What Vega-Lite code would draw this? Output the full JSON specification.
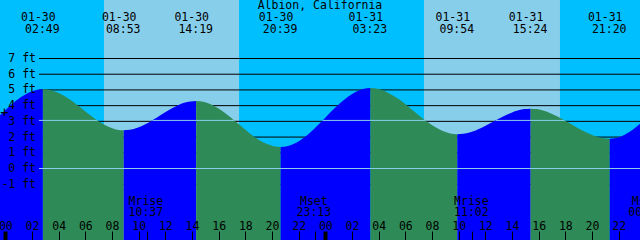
{
  "$schema": "https://vega.github.io/schema/vega-lite/v6.json",
  "width": 640,
  "height": 240,
  "autosize": {"type": "none"},
  "padding": 0,
  "background": "#00BFFF",
  "config": {
    "view": {"stroke": null},
    "axis": {"labelFont": "DejaVu Sans Mono", "labelFontSize": 11.5, "labelColor": "#000000", "labelOverlap": false, "labelFlush": false, "labelBound": false}
  },
  "datasets": {
    "sun": [{"start": 7.40, "end": 17.53}, {"start": 31.40, "end": 41.60}],
    "levels": [{"ft": -1}, {"ft": 0}, {"ft": 1}, {"ft": 2}, {"ft": 3}, {"ft": 4}, {"ft": 5}, {"ft": 6}, {"ft": 7}],
    "tide": [
      {"seg": 0, "phase": "rise", "h": -0.4, "ft": 3.38}, {"seg": 0, "phase": "rise", "h": 0, "ft": 3.71}, {"seg": 0, "phase": "rise", "h": 0.5, "ft": 4.10}, {"seg": 0, "phase": "rise", "h": 1, "ft": 4.44}, {"seg": 0, "phase": "rise", "h": 1.5, "ft": 4.71}, {"seg": 0, "phase": "rise", "h": 2, "ft": 4.91}, {"seg": 0, "phase": "rise", "h": 2.4, "ft": 5.01}, {"seg": 0, "phase": "rise", "h": 2.817, "ft": 5.04},
      {"seg": 1, "phase": "fall", "h": 2.817, "ft": 5.04}, {"seg": 1, "phase": "fall", "h": 3.323, "ft": 5.00}, {"seg": 1, "phase": "fall", "h": 3.828, "ft": 4.87}, {"seg": 1, "phase": "fall", "h": 4.839, "ft": 4.39}, {"seg": 1, "phase": "fall", "h": 5.85, "ft": 3.74}, {"seg": 1, "phase": "fall", "h": 6.861, "ft": 3.08}, {"seg": 1, "phase": "fall", "h": 7.872, "ft": 2.61}, {"seg": 1, "phase": "fall", "h": 8.378, "ft": 2.47}, {"seg": 1, "phase": "fall", "h": 8.883, "ft": 2.43},
      {"seg": 2, "phase": "rise", "h": 8.883, "ft": 2.43}, {"seg": 2, "phase": "rise", "h": 9.336, "ft": 2.46}, {"seg": 2, "phase": "rise", "h": 9.789, "ft": 2.56}, {"seg": 2, "phase": "rise", "h": 10.694, "ft": 2.90}, {"seg": 2, "phase": "rise", "h": 11.6, "ft": 3.37}, {"seg": 2, "phase": "rise", "h": 12.506, "ft": 3.83}, {"seg": 2, "phase": "rise", "h": 13.411, "ft": 4.18}, {"seg": 2, "phase": "rise", "h": 13.864, "ft": 4.27}, {"seg": 2, "phase": "rise", "h": 14.317, "ft": 4.30},
      {"seg": 3, "phase": "fall", "h": 14.317, "ft": 4.30}, {"seg": 3, "phase": "fall", "h": 14.845, "ft": 4.25}, {"seg": 3, "phase": "fall", "h": 15.372, "ft": 4.10}, {"seg": 3, "phase": "fall", "h": 16.428, "ft": 3.57}, {"seg": 3, "phase": "fall", "h": 17.483, "ft": 2.84}, {"seg": 3, "phase": "fall", "h": 18.539, "ft": 2.10}, {"seg": 3, "phase": "fall", "h": 19.594, "ft": 1.57}, {"seg": 3, "phase": "fall", "h": 20.122, "ft": 1.42}, {"seg": 3, "phase": "fall", "h": 20.65, "ft": 1.37},
      {"seg": 4, "phase": "rise", "h": 20.65, "ft": 1.37}, {"seg": 4, "phase": "rise", "h": 21.211, "ft": 1.43}, {"seg": 4, "phase": "rise", "h": 21.772, "ft": 1.62}, {"seg": 4, "phase": "rise", "h": 22.894, "ft": 2.31}, {"seg": 4, "phase": "rise", "h": 24.017, "ft": 3.25}, {"seg": 4, "phase": "rise", "h": 25.139, "ft": 4.18}, {"seg": 4, "phase": "rise", "h": 26.261, "ft": 4.87}, {"seg": 4, "phase": "rise", "h": 26.822, "ft": 5.06}, {"seg": 4, "phase": "rise", "h": 27.383, "ft": 5.12},
      {"seg": 5, "phase": "fall", "h": 27.383, "ft": 5.12}, {"seg": 5, "phase": "fall", "h": 27.926, "ft": 5.07}, {"seg": 5, "phase": "fall", "h": 28.469, "ft": 4.92}, {"seg": 5, "phase": "fall", "h": 29.555, "ft": 4.39}, {"seg": 5, "phase": "fall", "h": 30.642, "ft": 3.65}, {"seg": 5, "phase": "fall", "h": 31.728, "ft": 2.92}, {"seg": 5, "phase": "fall", "h": 32.814, "ft": 2.38}, {"seg": 5, "phase": "fall", "h": 33.357, "ft": 2.23}, {"seg": 5, "phase": "fall", "h": 33.9, "ft": 2.18},
      {"seg": 6, "phase": "rise", "h": 33.9, "ft": 2.18}, {"seg": 6, "phase": "rise", "h": 34.358, "ft": 2.21}, {"seg": 6, "phase": "rise", "h": 34.817, "ft": 2.29}, {"seg": 6, "phase": "rise", "h": 35.733, "ft": 2.59}, {"seg": 6, "phase": "rise", "h": 36.65, "ft": 3.00}, {"seg": 6, "phase": "rise", "h": 37.567, "ft": 3.40}, {"seg": 6, "phase": "rise", "h": 38.483, "ft": 3.70}, {"seg": 6, "phase": "rise", "h": 38.942, "ft": 3.78}, {"seg": 6, "phase": "rise", "h": 39.4, "ft": 3.81},
      {"seg": 7, "phase": "fall", "h": 39.4, "ft": 3.81}, {"seg": 7, "phase": "fall", "h": 39.894, "ft": 3.78}, {"seg": 7, "phase": "fall", "h": 40.389, "ft": 3.68}, {"seg": 7, "phase": "fall", "h": 41.378, "ft": 3.33}, {"seg": 7, "phase": "fall", "h": 42.367, "ft": 2.86}, {"seg": 7, "phase": "fall", "h": 43.356, "ft": 2.38}, {"seg": 7, "phase": "fall", "h": 44.344, "ft": 2.03}, {"seg": 7, "phase": "fall", "h": 44.839, "ft": 1.93}, {"seg": 7, "phase": "fall", "h": 45.333, "ft": 1.90},
      {"seg": 8, "phase": "rise", "h": 45.333, "ft": 1.90}, {"seg": 8, "phase": "rise", "h": 45.8, "ft": 1.94}, {"seg": 8, "phase": "rise", "h": 46.3, "ft": 2.09}, {"seg": 8, "phase": "rise", "h": 46.8, "ft": 2.32}, {"seg": 8, "phase": "rise", "h": 47.2, "ft": 2.56}, {"seg": 8, "phase": "rise", "h": 47.61, "ft": 2.85}
    ],
    "datumlines": [
      {"from": 2.53, "to": 48, "ft": 0},
      {"from": 2.53, "to": 6.90, "ft": 3.06},
      {"from": 11.03, "to": 17.17, "ft": 3.06},
      {"from": 23.80, "to": 31.50, "ft": 3.06},
      {"from": 36.79, "to": 41.96, "ft": 3.06}
    ],
    "extremes": [
      {"h": 2.817, "date": "01-30", "time": "02:49"},
      {"h": 8.883, "date": "01-30", "time": "08:53"},
      {"h": 14.317, "date": "01-30", "time": "14:19"},
      {"h": 20.65, "date": "01-30", "time": "20:39"},
      {"h": 27.383, "date": "01-31", "time": "03:23"},
      {"h": 33.9, "date": "01-31", "time": "09:54"},
      {"h": 39.4, "date": "01-31", "time": "15:24"},
      {"h": 45.333, "date": "01-31", "time": "21:20"}
    ],
    "moon": [
      {"h": 10.617, "event": "Mrise", "time": "10:37"},
      {"h": 23.217, "event": "Mset", "time": "23:13"},
      {"h": 35.033, "event": "Mrise", "time": "11:02"},
      {"h": 48.1, "event": "Mset", "time": "00:06"}
    ],
    "marker": [{"h": -0.06, "ft": 3.55, "sym": "+"}],
    "place": [{"h": 23.6, "name": "Albion, California"}]
  },
  "layer": [
    {
      "data": {"name": "sun"},
      "mark": {"type": "rect", "color": "#87CEEB"},
      "encoding": {
        "x": {"field": "start", "type": "quantitative", "title": null, "scale": {"domain": [-0.3975, 47.6025], "nice": false, "zero": false},
          "axis": {"orient": "bottom", "values": [0, 2, 4, 6, 8, 10, 12, 14, 16, 18, 20, 22, 24, 26, 28, 30, 32, 34, 36, 38, 40, 42, 44, 46, 10.617, 23.217, 35.033], "labelExpr": "datum.value % 2 === 0 ? ((datum.value % 24) < 10 ? '0' + (datum.value % 24) : '' + (datum.value % 24)) : ''", "tickSize": -9, "tickColor": "#000000", "tickWidth": {"condition": {"test": "datum.value % 24 === 0", "value": 4}, "value": 1}, "domain": false, "grid": false, "labelPadding": -1.5, "labelBaseline": "alphabetic", "labelFlush": false, "labelOverlap": false, "title": null, "zindex": 1}},
        "x2": {"field": "end"}
      }
    },
    {
      "data": {"name": "levels"},
      "mark": {"type": "rule", "color": "#000000", "strokeWidth": 1},
      "encoding": {
        "y": {"field": "ft", "type": "quantitative", "title": null, "scale": {"domain": [-4.55, 10.723], "nice": false, "zero": false},
          "axis": {"orient": "left", "values": [-1, 0, 1, 2, 3, 4, 5, 6, 7], "labelExpr": "datum.value + ' ft'", "offset": -35.5, "ticks": false, "tickSize": 0, "domain": false, "grid": false, "labelPadding": 0, "title": null, "zindex": 1, "labelAlign": "right", "labelBaseline": "middle", "labelOverlap": false, "labelFlush": false}},
        "x": {"datum": 2.53, "type": "quantitative", "title": null, "scale": {"domain": [-0.3975, 47.6025], "nice": false, "zero": false},
          "axis": {"orient": "bottom", "values": [0, 2, 4, 6, 8, 10, 12, 14, 16, 18, 20, 22, 24, 26, 28, 30, 32, 34, 36, 38, 40, 42, 44, 46, 10.617, 23.217, 35.033], "labelExpr": "datum.value % 2 === 0 ? ((datum.value % 24) < 10 ? '0' + (datum.value % 24) : '' + (datum.value % 24)) : ''", "tickSize": -9, "tickColor": "#000000", "tickWidth": {"condition": {"test": "datum.value % 24 === 0", "value": 4}, "value": 1}, "domain": false, "grid": false, "labelPadding": -1.5, "labelBaseline": "alphabetic", "labelFlush": false, "labelOverlap": false, "title": null, "zindex": 1}},
        "x2": {"datum": 48}
      }
    },
    {
      "data": {"name": "tide"},
      "mark": {"type": "area", "interpolate": "monotone"},
      "encoding": {
        "x": {"field": "h", "type": "quantitative", "title": null, "scale": {"domain": [-0.3975, 47.6025], "nice": false, "zero": false},
          "axis": {"orient": "bottom", "values": [0, 2, 4, 6, 8, 10, 12, 14, 16, 18, 20, 22, 24, 26, 28, 30, 32, 34, 36, 38, 40, 42, 44, 46, 10.617, 23.217, 35.033], "labelExpr": "datum.value % 2 === 0 ? ((datum.value % 24) < 10 ? '0' + (datum.value % 24) : '' + (datum.value % 24)) : ''", "tickSize": -9, "tickColor": "#000000", "tickWidth": {"condition": {"test": "datum.value % 24 === 0", "value": 4}, "value": 1}, "domain": false, "grid": false, "labelPadding": -1.5, "labelBaseline": "alphabetic", "labelFlush": false, "labelOverlap": false, "title": null, "zindex": 1}},
        "y": {"field": "ft", "type": "quantitative", "stack": null, "title": null, "scale": {"domain": [-4.55, 10.723], "nice": false, "zero": false},
          "axis": {"orient": "left", "values": [-1, 0, 1, 2, 3, 4, 5, 6, 7], "labelExpr": "datum.value + ' ft'", "offset": -35.5, "ticks": false, "tickSize": 0, "domain": false, "grid": false, "labelPadding": 0, "title": null, "zindex": 1, "labelAlign": "right", "labelBaseline": "middle", "labelOverlap": false, "labelFlush": false}},
        "y2": {"datum": -4.55},
        "color": {"field": "phase", "type": "nominal", "scale": {"domain": ["rise", "fall"], "range": ["#0000FF", "#2E8B57"]}, "legend": null},
        "detail": {"field": "seg", "type": "nominal"}
      }
    },
    {
      "data": {"name": "datumlines"},
      "mark": {"type": "rule", "color": "#87CEEB", "strokeWidth": 1},
      "encoding": {
        "x": {"field": "from", "type": "quantitative", "title": null, "scale": {"domain": [-0.3975, 47.6025], "nice": false, "zero": false},
          "axis": {"orient": "bottom", "values": [0, 2, 4, 6, 8, 10, 12, 14, 16, 18, 20, 22, 24, 26, 28, 30, 32, 34, 36, 38, 40, 42, 44, 46, 10.617, 23.217, 35.033], "labelExpr": "datum.value % 2 === 0 ? ((datum.value % 24) < 10 ? '0' + (datum.value % 24) : '' + (datum.value % 24)) : ''", "tickSize": -9, "tickColor": "#000000", "tickWidth": {"condition": {"test": "datum.value % 24 === 0", "value": 4}, "value": 1}, "domain": false, "grid": false, "labelPadding": -1.5, "labelBaseline": "alphabetic", "labelFlush": false, "labelOverlap": false, "title": null, "zindex": 1}},
        "x2": {"field": "to"},
        "y": {"field": "ft", "type": "quantitative", "title": null, "scale": {"domain": [-4.55, 10.723], "nice": false, "zero": false},
          "axis": {"orient": "left", "values": [-1, 0, 1, 2, 3, 4, 5, 6, 7], "labelExpr": "datum.value + ' ft'", "offset": -35.5, "ticks": false, "tickSize": 0, "domain": false, "grid": false, "labelPadding": 0, "title": null, "zindex": 1, "labelAlign": "right", "labelBaseline": "middle", "labelOverlap": false, "labelFlush": false}}
      }
    },
    {
      "data": {"name": "extremes"},
      "mark": {"type": "text", "font": "DejaVu Sans Mono", "fontSize": 11.5, "baseline": "alphabetic", "align": "center", "dx": -4.5, "color": "#000000"},
      "encoding": {
        "x": {"field": "h", "type": "quantitative", "title": null,
          "axis": {"orient": "bottom", "values": [0, 2, 4, 6, 8, 10, 12, 14, 16, 18, 20, 22, 24, 26, 28, 30, 32, 34, 36, 38, 40, 42, 44, 46, 10.617, 23.217, 35.033], "labelExpr": "datum.value % 2 === 0 ? ((datum.value % 24) < 10 ? '0' + (datum.value % 24) : '' + (datum.value % 24)) : ''", "tickSize": -9, "tickColor": "#000000", "tickWidth": {"condition": {"test": "datum.value % 24 === 0", "value": 4}, "value": 1}, "domain": false, "grid": false, "labelPadding": -1.5, "labelBaseline": "alphabetic", "labelFlush": false, "labelOverlap": false, "title": null, "zindex": 1}},
        "y": {"datum": 9.41, "type": "quantitative", "title": null,
          "axis": {"orient": "left", "values": [-1, 0, 1, 2, 3, 4, 5, 6, 7], "labelExpr": "datum.value + ' ft'", "offset": -35.5, "ticks": false, "tickSize": 0, "domain": false, "grid": false, "labelPadding": 0, "title": null, "zindex": 1, "labelAlign": "right", "labelBaseline": "middle", "labelOverlap": false, "labelFlush": false}},
        "text": {"field": "date"}
      }
    },
    {
      "data": {"name": "extremes"},
      "mark": {"type": "text", "font": "DejaVu Sans Mono", "fontSize": 11.5, "baseline": "alphabetic", "align": "center", "dx": -0.5, "color": "#000000"},
      "encoding": {
        "x": {"field": "h", "type": "quantitative", "title": null,
          "axis": {"orient": "bottom", "values": [0, 2, 4, 6, 8, 10, 12, 14, 16, 18, 20, 22, 24, 26, 28, 30, 32, 34, 36, 38, 40, 42, 44, 46, 10.617, 23.217, 35.033], "labelExpr": "datum.value % 2 === 0 ? ((datum.value % 24) < 10 ? '0' + (datum.value % 24) : '' + (datum.value % 24)) : ''", "tickSize": -9, "tickColor": "#000000", "tickWidth": {"condition": {"test": "datum.value % 24 === 0", "value": 4}, "value": 1}, "domain": false, "grid": false, "labelPadding": -1.5, "labelBaseline": "alphabetic", "labelFlush": false, "labelOverlap": false, "title": null, "zindex": 1}},
        "y": {"datum": 8.604, "type": "quantitative", "title": null,
          "axis": {"orient": "left", "values": [-1, 0, 1, 2, 3, 4, 5, 6, 7], "labelExpr": "datum.value + ' ft'", "offset": -35.5, "ticks": false, "tickSize": 0, "domain": false, "grid": false, "labelPadding": 0, "title": null, "zindex": 1, "labelAlign": "right", "labelBaseline": "middle", "labelOverlap": false, "labelFlush": false}},
        "text": {"field": "time"}
      }
    },
    {
      "data": {"name": "moon"},
      "mark": {"type": "text", "font": "DejaVu Sans Mono", "fontSize": 11.5, "baseline": "alphabetic", "align": "center", "dx": -1, "color": "#000000"},
      "encoding": {
        "x": {"field": "h", "type": "quantitative", "title": null,
          "axis": {"orient": "bottom", "values": [0, 2, 4, 6, 8, 10, 12, 14, 16, 18, 20, 22, 24, 26, 28, 30, 32, 34, 36, 38, 40, 42, 44, 46, 10.617, 23.217, 35.033], "labelExpr": "datum.value % 2 === 0 ? ((datum.value % 24) < 10 ? '0' + (datum.value % 24) : '' + (datum.value % 24)) : ''", "tickSize": -9, "tickColor": "#000000", "tickWidth": {"condition": {"test": "datum.value % 24 === 0", "value": 4}, "value": 1}, "domain": false, "grid": false, "labelPadding": -1.5, "labelBaseline": "alphabetic", "labelFlush": false, "labelOverlap": false, "title": null, "zindex": 1}},
        "y": {"datum": -2.35, "type": "quantitative", "title": null,
          "axis": {"orient": "left", "values": [-1, 0, 1, 2, 3, 4, 5, 6, 7], "labelExpr": "datum.value + ' ft'", "offset": -35.5, "ticks": false, "tickSize": 0, "domain": false, "grid": false, "labelPadding": 0, "title": null, "zindex": 1, "labelAlign": "right", "labelBaseline": "middle", "labelOverlap": false, "labelFlush": false}},
        "text": {"field": "event"}
      }
    },
    {
      "data": {"name": "moon"},
      "mark": {"type": "text", "font": "DejaVu Sans Mono", "fontSize": 11.5, "baseline": "alphabetic", "align": "center", "dx": -1, "color": "#000000"},
      "encoding": {
        "x": {"field": "h", "type": "quantitative", "title": null,
          "axis": {"orient": "bottom", "values": [0, 2, 4, 6, 8, 10, 12, 14, 16, 18, 20, 22, 24, 26, 28, 30, 32, 34, 36, 38, 40, 42, 44, 46, 10.617, 23.217, 35.033], "labelExpr": "datum.value % 2 === 0 ? ((datum.value % 24) < 10 ? '0' + (datum.value % 24) : '' + (datum.value % 24)) : ''", "tickSize": -9, "tickColor": "#000000", "tickWidth": {"condition": {"test": "datum.value % 24 === 0", "value": 4}, "value": 1}, "domain": false, "grid": false, "labelPadding": -1.5, "labelBaseline": "alphabetic", "labelFlush": false, "labelOverlap": false, "title": null, "zindex": 1}},
        "y": {"datum": -3.05, "type": "quantitative", "title": null,
          "axis": {"orient": "left", "values": [-1, 0, 1, 2, 3, 4, 5, 6, 7], "labelExpr": "datum.value + ' ft'", "offset": -35.5, "ticks": false, "tickSize": 0, "domain": false, "grid": false, "labelPadding": 0, "title": null, "zindex": 1, "labelAlign": "right", "labelBaseline": "middle", "labelOverlap": false, "labelFlush": false}},
        "text": {"field": "time"}
      }
    },
    {
      "data": {"name": "marker"},
      "mark": {"type": "text", "font": "DejaVu Sans Mono", "fontSize": 14, "baseline": "middle", "align": "center", "color": "#000000"},
      "encoding": {
        "x": {"field": "h", "type": "quantitative", "title": null,
          "axis": {"orient": "bottom", "values": [0, 2, 4, 6, 8, 10, 12, 14, 16, 18, 20, 22, 24, 26, 28, 30, 32, 34, 36, 38, 40, 42, 44, 46, 10.617, 23.217, 35.033], "labelExpr": "datum.value % 2 === 0 ? ((datum.value % 24) < 10 ? '0' + (datum.value % 24) : '' + (datum.value % 24)) : ''", "tickSize": -9, "tickColor": "#000000", "tickWidth": {"condition": {"test": "datum.value % 24 === 0", "value": 4}, "value": 1}, "domain": false, "grid": false, "labelPadding": -1.5, "labelBaseline": "alphabetic", "labelFlush": false, "labelOverlap": false, "title": null, "zindex": 1}},
        "y": {"field": "ft", "type": "quantitative", "title": null,
          "axis": {"orient": "left", "values": [-1, 0, 1, 2, 3, 4, 5, 6, 7], "labelExpr": "datum.value + ' ft'", "offset": -35.5, "ticks": false, "tickSize": 0, "domain": false, "grid": false, "labelPadding": 0, "title": null, "zindex": 1, "labelAlign": "right", "labelBaseline": "middle", "labelOverlap": false, "labelFlush": false}},
        "text": {"field": "sym"}
      }
    },
    {
      "data": {"name": "place"},
      "mark": {"type": "text", "font": "DejaVu Sans Mono", "fontSize": 11.5, "baseline": "alphabetic", "align": "center", "color": "#000000"},
      "encoding": {
        "x": {"field": "h", "type": "quantitative", "title": null,
          "axis": {"orient": "bottom", "values": [0, 2, 4, 6, 8, 10, 12, 14, 16, 18, 20, 22, 24, 26, 28, 30, 32, 34, 36, 38, 40, 42, 44, 46, 10.617, 23.217, 35.033], "labelExpr": "datum.value % 2 === 0 ? ((datum.value % 24) < 10 ? '0' + (datum.value % 24) : '' + (datum.value % 24)) : ''", "tickSize": -9, "tickColor": "#000000", "tickWidth": {"condition": {"test": "datum.value % 24 === 0", "value": 4}, "value": 1}, "domain": false, "grid": false, "labelPadding": -1.5, "labelBaseline": "alphabetic", "labelFlush": false, "labelOverlap": false, "title": null, "zindex": 1}},
        "y": {"datum": 10.13, "type": "quantitative", "title": null,
          "axis": {"orient": "left", "values": [-1, 0, 1, 2, 3, 4, 5, 6, 7], "labelExpr": "datum.value + ' ft'", "offset": -35.5, "ticks": false, "tickSize": 0, "domain": false, "grid": false, "labelPadding": 0, "title": null, "zindex": 1, "labelAlign": "right", "labelBaseline": "middle", "labelOverlap": false, "labelFlush": false}},
        "text": {"field": "name"}
      }
    }
  ]
}
